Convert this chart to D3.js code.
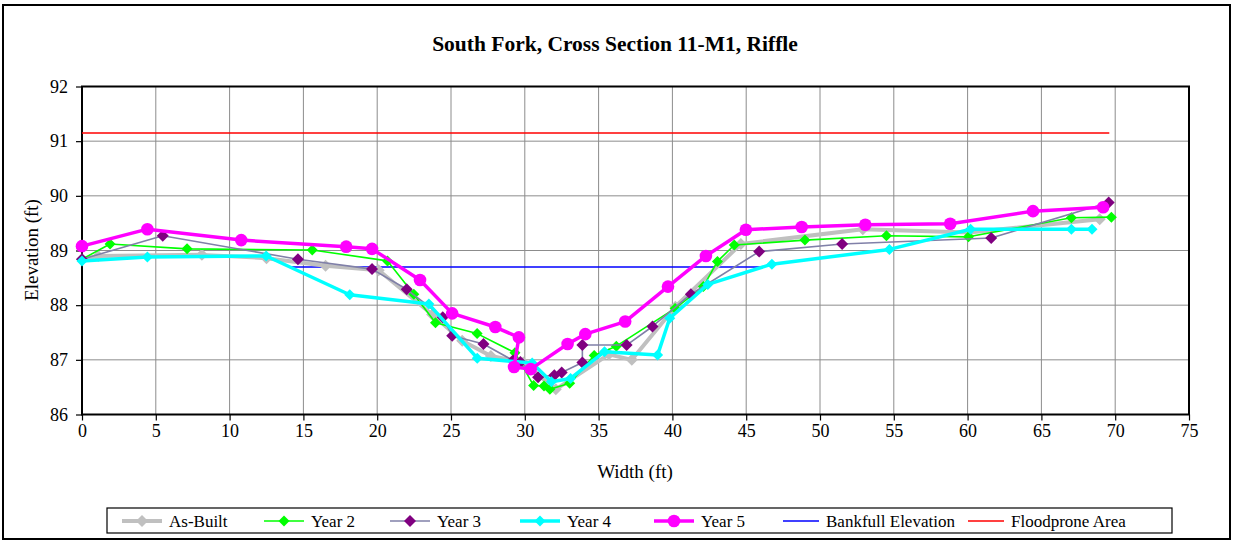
<!DOCTYPE html>
<html>
<head>
<meta charset="utf-8">
<script src="https://cdn.jsdelivr.net/npm/d3@7"></script>
<style>
  html, body { margin: 0; padding: 0; background: #fff; }
  svg { display: block; }
  text { font-family: "Liberation Serif", "Times New Roman", serif; fill: #000; }
</style>
</head>
<body>
<svg id="chart" width="1233" height="543"></svg>
<script>
// Cross-section survey points: [width (ft), elevation (ft)]
const asBuilt = [[0,88.84],[1.1,88.90],[8.12,88.92],[12.5,88.86],[16.5,88.72],[20.1,88.64],[23.72,87.83],[25.76,87.35],[27.7,87.07],[29.9,86.95],[32.1,86.46],[35.7,87.10],[37.25,87.0],[40.2,87.97],[44.64,89.12],[52.9,89.39],[60.1,89.33],[68.95,89.57]];
const year2 = [[0,88.84],[1.9,89.12],[7.12,89.03],[15.6,89.01],[20.7,88.81],[22.48,88.20],[23.95,87.68],[26.77,87.48],[29.33,87.13],[30.6,86.53],[31.3,86.52],[31.7,86.46],[33.04,86.57],[34.7,87.08],[36.2,87.25],[40.18,87.94],[42.1,88.34],[43.05,88.80],[44.19,89.10],[48.98,89.19],[54.5,89.27],[60.06,89.25],[67.03,89.60],[69.74,89.61]];
const year3 = [[0,88.84],[5.47,89.27],[14.63,88.84],[19.65,88.66],[22.0,88.29],[24.44,87.78],[25.08,87.44],[27.2,87.29],[29.2,86.99],[29.7,86.96],[30.9,86.68],[32.0,86.72],[32.5,86.77],[33.9,86.95],[33.9,87.27],[36.9,87.27],[38.65,87.61],[41.25,88.20],[45.88,88.98],[51.5,89.12],[61.6,89.23],[69.56,89.88]];
const year4 = [[0,88.81],[4.43,88.88],[12.48,88.90],[18.14,88.19],[23.5,88.02],[26.78,87.03],[30.5,86.94],[31.8,86.60],[33.1,86.66],[35.4,87.15],[39.0,87.09],[39.82,87.76],[42.4,88.38],[46.74,88.75],[54.7,89.02],[60.2,89.39],[67.03,89.39],[68.43,89.39]];
const year5 = [[0,89.08],[4.43,89.39],[10.79,89.19],[17.9,89.07],[19.65,89.03],[22.9,88.46],[25.08,87.85],[28.0,87.60],[29.6,87.41],[29.27,86.87],[30.4,86.83],[32.9,87.29],[34.1,87.47],[36.8,87.70],[39.7,88.34],[42.27,88.90],[44.98,89.38],[48.76,89.43],[53.07,89.47],[58.82,89.49],[64.43,89.72],[69.18,89.79]];
const bankfull = [[14.0,88.70],[46.1,88.70]];
const floodprone = [[0,91.15],[69.6,91.15]];

const xTicks = [0,5,10,15,20,25,30,35,40,45,50,55,60,65,70,75];
const yTicks = [86,87,88,89,90,91,92];

const titleText = "South Fork, Cross Section 11-M1, Riffle";
const xLabel = "Width (ft)";
const yLabel = "Elevation (ft)";

// Series styling
const series = [
  { name: "As-Built", data: asBuilt, line: "#c0c0c0", width: 4, marker: "diamond", fill: "#c0c0c0", size: 6 },
  { name: "Year 2", data: year2, line: "#00ff00", width: 1.6, marker: "diamond", fill: "#00ff00", size: 5.5 },
  { name: "Year 3", data: year3, line: "#8080a8", width: 1.6, marker: "diamond", fill: "#800080", size: 6 },
  { name: "Year 4", data: year4, line: "#00ffff", width: 3.5, marker: "diamond", fill: "#00ffff", size: 5.5 },
  { name: "Year 5", data: year5, line: "#ff00ff", width: 3.5, marker: "circle", fill: "#ff00ff", size: 6.3 },
  { name: "Bankfull Elevation", data: bankfull, line: "#0000ff", width: 1.5, marker: null },
  { name: "Floodprone Area", data: floodprone, line: "#ff0000", width: 1.5, marker: null }
];

const svg = d3.select("#chart");
const W = 1233, H = 543;
const plot = { left: 82, right: 1189, top: 86.5, bottom: 414.5 };

const x = d3.scaleLinear().domain([0, 75]).range([plot.left, plot.right]);
const y = d3.scaleLinear().domain([86, 92]).range([plot.bottom, plot.top]);

// outer frame
svg.append("rect").attr("x", 3).attr("y", 5).attr("width", W - 6).attr("height", H - 9)
  .attr("fill", "#fff").attr("stroke", "#000").attr("stroke-width", 2);

// title
svg.append("text").attr("x", 615).attr("y", 51).attr("text-anchor", "middle")
  .style("font-size", "21.5px").style("font-weight", "bold").text(titleText);

// gridlines
const grid = svg.append("g");
grid.selectAll("line.h").data(yTicks).join("line")
  .attr("x1", plot.left).attr("x2", plot.right)
  .attr("y1", d => y(d)).attr("y2", d => y(d))
  .attr("stroke", "#8c8c8c").attr("stroke-width", 1);
grid.selectAll("line.v").data(xTicks).join("line")
  .attr("y1", plot.top).attr("y2", plot.bottom)
  .attr("x1", d => x(d)).attr("x2", d => x(d))
  .attr("stroke", "#8c8c8c").attr("stroke-width", 1);

// axes
const xAxis = d3.axisBottom(x).tickValues(xTicks).tickSize(6).tickPadding(4).tickFormat(d3.format("d"));
const yAxis = d3.axisLeft(y).tickValues(yTicks).tickSize(6).tickPadding(8).tickFormat(d3.format("d"));
const gx = svg.append("g").attr("transform", `translate(0,${plot.bottom})`).call(xAxis);
const gy = svg.append("g").attr("transform", `translate(${plot.left},0)`).call(yAxis);
[gx, gy].forEach(g => {
  g.select(".domain").remove();
  g.selectAll(".tick line").attr("stroke", "#000").attr("stroke-width", 1.2);
  g.selectAll(".tick text").style("font-size", "18px").style("font-family", "Liberation Serif, serif").attr("fill", "#000");
});

// plot border
svg.append("rect").attr("x", plot.left).attr("y", plot.top)
  .attr("width", plot.right - plot.left).attr("height", plot.bottom - plot.top)
  .attr("fill", "none").attr("stroke", "#000").attr("stroke-width", 2);

// axis titles
svg.append("text").attr("x", 635).attr("y", 478).attr("text-anchor", "middle")
  .style("font-size", "19px").text(xLabel);
svg.append("text").attr("transform", `translate(38,250) rotate(-90)`).attr("text-anchor", "middle")
  .style("font-size", "19px").text(yLabel);

const line = d3.line().x(d => x(d[0])).y(d => y(d[1]));
const diamond = s => `M0,${-s}L${s},0L0,${s}L${-s},0Z`;

function drawMarkers(g, s, pts) {
  if (!s.marker) return;
  if (s.marker === "circle") {
    g.selectAll("circle").data(pts).join("circle")
      .attr("cx", d => d[0]).attr("cy", d => d[1]).attr("r", s.size).attr("fill", s.fill);
  } else {
    g.selectAll("path.m").data(pts).join("path").attr("class", "m")
      .attr("transform", d => `translate(${d[0]},${d[1]})`)
      .attr("d", diamond(s.size)).attr("fill", s.fill);
  }
}

// reference lines drawn beneath the survey series
const order = [5, 6, 0, 1, 2, 3, 4];
order.forEach(i => {
  const s = series[i];
  const g = svg.append("g");
  g.append("path").datum(s.data).attr("d", line)
    .attr("fill", "none").attr("stroke", s.line).attr("stroke-width", s.width)
    .attr("stroke-linejoin", "round");
  drawMarkers(g, s, s.data.map(d => [x(d[0]), y(d[1])]));
});

// legend
const legend = svg.append("g");
legend.append("rect").attr("x", 107).attr("y", 508).attr("width", 1065).attr("height", 25)
  .attr("fill", "#fff").attr("stroke", "#000").attr("stroke-width", 1.2);
const legendX = [122, 264, 390, 520, 654, 783, 968];
const legendLen = [40, 40, 40, 40, 40, 36, 36];
series.forEach((s, i) => {
  const lx = legendX[i], ly = 521;
  const g = legend.append("g");
  g.append("line").attr("x1", lx).attr("x2", lx + legendLen[i]).attr("y1", ly).attr("y2", ly)
    .attr("stroke", s.line).attr("stroke-width", s.width);
  drawMarkers(g, s, [[lx + legendLen[i] / 2, ly]]);
  g.append("text").attr("x", lx + legendLen[i] + 7).attr("y", ly + 6).style("font-size", "17px").text(s.name);
});
</script>
</body>
</html>
